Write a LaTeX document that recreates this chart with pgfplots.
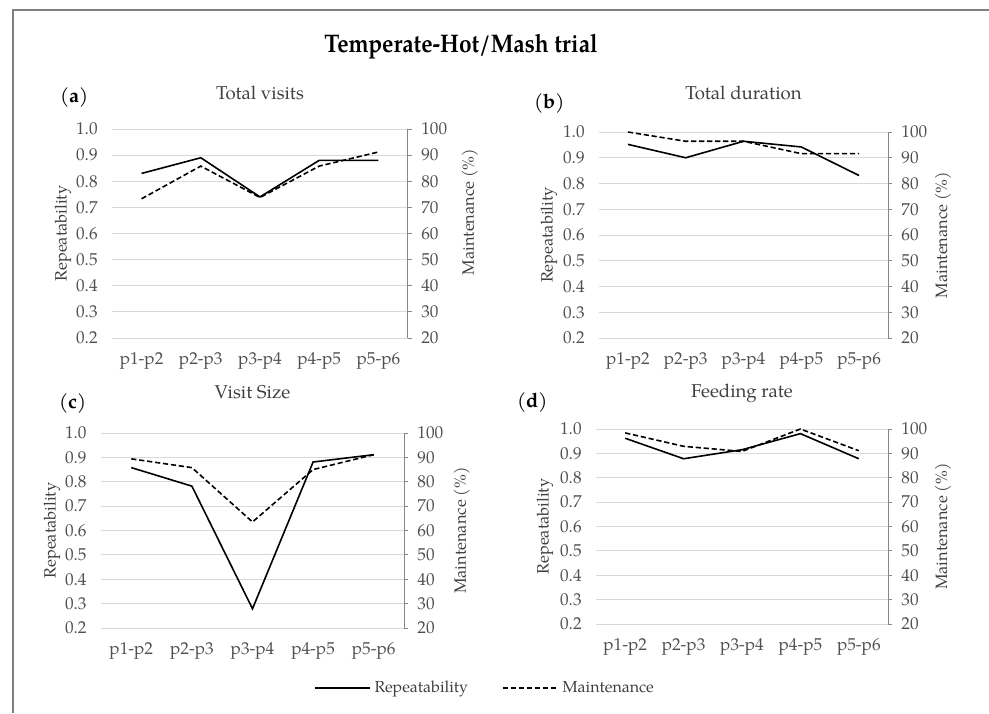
\documentclass[border=0pt]{standalone}
\usepackage{fontspec}
\setmainfont{TeX Gyre Pagella}
\usepackage{pgfplots}
\pgfplotsset{compat=1.18}
\definecolor{gridc}{HTML}{D9D9D9}
\definecolor{axc}{HTML}{868686}
\definecolor{tickc}{HTML}{505050}
\definecolor{labc}{HTML}{404040}
\definecolor{framec}{HTML}{7F7F7F}
\pgfplotsset{
  panelbase/.style={scale only axis, xmin=-0.5, xmax=4.5, clip=false,
    /pgf/number format/assume math mode=true},
  leftax/.style={panelbase, ymin=0.2, ymax=1.0,
    ytick={0.2,0.3,0.4,0.5,0.6,0.7,0.8,0.9,1.0},
    axis line style={draw=none}, major tick length=0pt,
    ymajorgrids, grid style={color=gridc, line width=0.5pt},
    xtick={0,1,2,3,4}, xticklabels={p1-p2,p2-p3,p3-p4,p4-p5,p5-p6},
    yticklabel style={/pgf/number format/fixed, /pgf/number format/fixed zerofill,
      /pgf/number format/precision=1, font=\fontsize{8.6}{10}\selectfont, text=tickc,
      anchor=east, inner sep=0pt, xshift=-7pt},
    xticklabel style={font=\fontsize{8.6}{10}\selectfont, text=tickc, anchor=base,
      inner sep=0pt, yshift=-13pt},
    title style={font=\fontsize{9.3}{11}\selectfont, text=labc, at={(0.5,1)}, anchor=base},
    ylabel style={font=\fontsize{8.2}{10}\selectfont, text=labc, anchor=center, rotate=0},
  },
  rightax/.style={panelbase, ymin=20, ymax=100,
    ytick={20,30,40,50,60,70,80,90,100},
    axis x line=none, axis y line*=right,
    axis line style={draw=axc, line width=0.5pt},
    ytick style={draw=axc, line width=0.5pt}, tick align=outside, major tick length=2pt,
    yticklabel style={font=\fontsize{8.6}{10}\selectfont, text=tickc, anchor=west,
      inner sep=0pt, xshift=4.5pt},
    ylabel style={font=\fontsize{8.2}{10}\selectfont, text=labc, anchor=center},
  },
  repline/.style={black, line width=0.8pt, solid, mark=none},
  mainline/.style={black, line width=0.8pt, dash pattern=on 2.6pt off 1.4pt, mark=none},
}
\begin{document}
\begin{tikzpicture}
\useasboundingbox (0pt,0pt) rectangle (494.5pt,356.5pt);
\draw[framec, line width=0.6pt] (6.5pt,0pt) -- (6.5pt,351.5pt) -- (494.5pt,351.5pt);
\node[anchor=base, font=\bfseries\fontsize{12}{14}\selectfont] at (230.5pt,330pt) {\scalebox{0.945}[1.06]{Temperate-Hot/Mash trial}};

% ---------- (a) Total visits
\begin{axis}[leftax, at={(56pt,187.5pt)}, width=148pt, height=104.5pt,
  title={Total visits}, title style={yshift=9pt},
  ylabel={Repeatability}, ylabel style={at={(axis description cs:-0.1655,0.5)}}]
\addplot[repline] coordinates {(0,0.83) (1,0.89) (2,0.74) (3,0.88) (4,0.88)};
\end{axis}
\begin{axis}[rightax, at={(56pt,187.5pt)}, width=148pt, height=104.5pt,
  ylabel={Maintenance (\%)}, ylabel style={at={(axis description cs:1.209,0.603)}}]
\addplot[mainline] coordinates {(0,73.3) (1,85.8) (2,73.8) (3,85.8) (4,91.2)};
\end{axis}

% ---------- (b) Total duration
\begin{axis}[leftax, at={(299.5pt,187.5pt)}, width=144.5pt, height=103pt,
  title={Total duration}, title style={yshift=10.5pt},
  ylabel={Repeatability}, ylabel style={at={(axis description cs:-0.173,0.5)}}]
\addplot[repline] coordinates {(0,0.952) (1,0.900) (2,0.964) (3,0.942) (4,0.831)};
\end{axis}
\begin{axis}[rightax, at={(299.5pt,187.5pt)}, width=144.5pt, height=103pt,
  ylabel={Maintenance (\%)}, ylabel style={at={(axis description cs:1.190,0.5)}}]
\addplot[mainline] coordinates {(0,100) (1,96.4) (2,96.4) (3,91.6) (4,91.6)};
\end{axis}

% ---------- (c) Visit Size
\begin{axis}[leftax, at={(50.5pt,42.5pt)}, width=151.5pt, height=97.5pt,
  title={Visit Size}, title style={yshift=11.5pt},
  ylabel={Repeatability}, ylabel style={at={(axis description cs:-0.1617,0.5)}},
  legend columns=2,
  legend style={at={(axis description cs:1.2706,-0.3077)}, anchor=center,
    draw=none, fill=none, font=\fontsize{8}{10}\selectfont, text=labc,
    /tikz/every even column/.append style={column sep=15pt}},
  legend image code/.code={\draw[#1] (0pt,0pt) -- (27.5pt,0pt);}]
\addplot[repline] coordinates {(0,0.858) (1,0.782) (2,0.279) (3,0.881) (4,0.911)};
\addlegendentry{Repeatability}
\addlegendimage{mainline}
\addlegendentry{Maintenance}
\end{axis}
\begin{axis}[rightax, at={(50.5pt,42.5pt)}, width=151.5pt, height=97.5pt,
  ylabel={Maintenance (\%)}, ylabel style={at={(axis description cs:1.191,0.5)}}]
\addplot[mainline] coordinates {(0,89.4) (1,85.8) (2,63.5) (3,85.0) (4,91.1)};
\end{axis}

% ---------- (d) Feeding rate
\begin{axis}[leftax, at={(298pt,44.5pt)}, width=146pt, height=97.5pt,
  title={Feeding rate}, title style={yshift=10pt},
  ylabel={Repeatability}, ylabel style={at={(axis description cs:-0.1747,0.5)}}]
\addplot[repline] coordinates {(0,0.962) (1,0.878) (2,0.915) (3,0.981) (4,0.878)};
\end{axis}
\begin{axis}[rightax, at={(298pt,44.5pt)}, width=146pt, height=97.5pt,
  ylabel={Maintenance (\%)}, ylabel style={at={(axis description cs:1.188,0.5)}}]
\addplot[mainline] coordinates {(0,98.4) (1,92.9) (2,90.8) (3,100) (4,91.1)};
\end{axis}

\node[anchor=base west, font=\fontsize{10}{12}\selectfont] at (26.5pt,305pt) {(\textbf{a})};
\node[anchor=base west, font=\fontsize{10}{12}\selectfont] at (263.5pt,302pt) {(\textbf{b})};
\node[anchor=base west, font=\fontsize{10}{12}\selectfont] at (26pt,152.5pt) {(\textbf{c})};
\node[anchor=base west, font=\fontsize{10}{12}\selectfont] at (255pt,153pt) {(\textbf{d})};
\end{tikzpicture}
\end{document}
